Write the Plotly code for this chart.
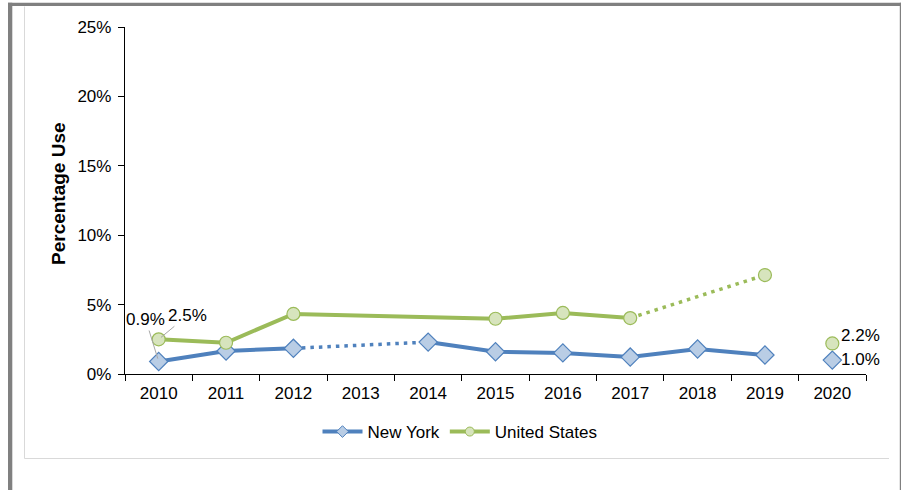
import plotly.graph_objects as go

years = ["2010", "2011", "2012", "2013", "2014", "2015", "2016", "2017", "2018", "2019", "2020"]
ny = [0.9, 1.66, 1.85, None, 2.3, 1.6, 1.52, 1.22, 1.8, 1.37, 1.0]
us = [2.5, 2.25, 4.33, None, None, 3.98, 4.4, 4.03, None, 7.13, 2.2]
y_ticks = [0, 5, 10, 15, 20, 25]
y_title = "Percentage Use"

# which year-pairs are drawn as dotted (estimated) links
ny_dotted = ("2012", "2014")
us_dotted = ("2017", "2019")
last_connected = "2019"

NY_LINE = "#4F81BD"
NY_FILL = "#B9CDE5"
US_LINE = "#9BBB59"
US_FILL = "#D7E4BD"
FONT = "Liberation Sans, Arial, sans-serif"
FS = 17

W, H = 902, 490
L, R, T, B = 125, 866, 27, 374


def xp(px):
    return (px - L) / (R - L)


def yp(py):
    return (B - py) / (B - T)


def val(series, yr):
    return series[years.index(yr)]


fig = go.Figure()

idx_last = years.index(last_connected) + 1

# solid lines
fig.add_trace(go.Scatter(x=years[:idx_last], y=ny[:idx_last], mode="lines",
                         line=dict(color=NY_LINE, width=4), connectgaps=False,
                         showlegend=False, hoverinfo="skip"))
us_solid_end = years.index(us_dotted[0]) + 1
fig.add_trace(go.Scatter(x=years[:us_solid_end], y=us[:us_solid_end], mode="lines",
                         line=dict(color=US_LINE, width=4), connectgaps=True,
                         showlegend=False, hoverinfo="skip"))
# dotted links
fig.add_trace(go.Scatter(x=list(ny_dotted), y=[val(ny, y) for y in ny_dotted], mode="lines",
                         line=dict(color=NY_LINE, width=3.5, dash="3.5px,5px"),
                         showlegend=False, hoverinfo="skip"))
fig.add_trace(go.Scatter(x=list(us_dotted), y=[val(us, y) for y in us_dotted], mode="lines",
                         line=dict(color=US_LINE, width=3.5, dash="3.5px,5px"),
                         showlegend=False, hoverinfo="skip"))
# markers
fig.add_trace(go.Scatter(x=years, y=ny, mode="markers",
                         marker=dict(symbol="diamond", size=14, color=NY_FILL,
                                     line=dict(color=NY_LINE, width=1.2)),
                         showlegend=False))
fig.add_trace(go.Scatter(x=years, y=us, mode="markers",
                         marker=dict(symbol="circle", size=13, color=US_FILL,
                                     line=dict(color=US_LINE, width=1.2)),
                         showlegend=False))
# legend entries
fig.add_trace(go.Scatter(x=[None], y=[None], mode="lines+markers", name="New York",
                         line=dict(color=NY_LINE, width=4),
                         marker=dict(symbol="diamond", size=9, color=NY_FILL,
                                     line=dict(color=NY_LINE, width=1))))
fig.add_trace(go.Scatter(x=[None], y=[None], mode="lines+markers", name="United States",
                         line=dict(color=US_LINE, width=4),
                         marker=dict(symbol="circle", size=9, color=US_FILL,
                                     line=dict(color=US_LINE, width=1))))

i_first = 0
i_last = len(years) - 1
annotations = [
    dict(x=i_first, y=ny[i_first], text=f"{ny[i_first]:.1f}%", showarrow=True, arrowhead=0,
         arrowcolor="#a6a6a6", arrowwidth=1, ax=-13, ay=-42, standoff=3,
         font=dict(size=FS, color="#000000", family=FONT)),
    dict(x=i_first, y=us[i_first], text=f"{us[i_first]:.1f}%", showarrow=True, arrowhead=0,
         arrowcolor="#a6a6a6", arrowwidth=1, ax=29, ay=-24, standoff=3,
         font=dict(size=FS, color="#000000", family=FONT)),
    dict(x=i_last, y=us[i_last], text=f"{us[i_last]:.1f}%", showarrow=False, xanchor="left",
         xshift=7, yshift=8, font=dict(size=FS, color="#000000", family=FONT)),
    dict(x=i_last, y=ny[i_last], text=f"{ny[i_last]:.1f}%", showarrow=False, xanchor="left",
         xshift=7, yshift=1, font=dict(size=FS, color="#000000", family=FONT)),
    # y-axis title
    dict(xref="paper", yref="paper", x=xp(58), y=yp(194), text=f"<b>{y_title}</b>",
         textangle=-90, showarrow=False, xanchor="center", yanchor="middle",
         font=dict(size=19, color="#000000", family=FONT)),
]

shapes = [
    # outer dark gray frame
    dict(type="rect", xref="paper", yref="paper", x0=xp(8), x1=xp(901), y0=yp(6), y1=yp(2.7),
         fillcolor="#808080", line=dict(width=0), layer="below"),
    dict(type="rect", xref="paper", yref="paper", x0=xp(8), x1=xp(12.3), y0=yp(490), y1=yp(2.7),
         fillcolor="#808080", line=dict(width=0), layer="below"),
    dict(type="rect", xref="paper", yref="paper", x0=xp(899.8), x1=xp(901), y0=yp(490), y1=yp(2.7),
         fillcolor="#808080", line=dict(width=0), layer="below"),
    # inner light gray frame
    dict(type="line", xref="paper", yref="paper", x0=xp(24.5), x1=xp(24.5), y0=yp(458.5), y1=yp(6.5),
         line=dict(color="#d9d9d9", width=1), layer="below"),
    dict(type="line", xref="paper", yref="paper", x0=xp(24.5), x1=xp(889), y0=yp(458.5), y1=yp(458.5),
         line=dict(color="#d9d9d9", width=1), layer="below"),
]

fig.update_layout(
    width=W, height=H,
    margin=dict(l=L, r=W - R, t=T, b=H - B),
    paper_bgcolor="white", plot_bgcolor="white",
    font=dict(family=FONT, size=FS, color="#000000"),
    showlegend=True,
    legend=dict(orientation="h", x=xp(460), y=yp(432), xanchor="center", yanchor="middle",
                font=dict(size=FS, family=FONT), itemwidth=40, bgcolor="rgba(0,0,0,0)"),
    xaxis=dict(type="category", categoryorder="array", categoryarray=years,
               range=[-0.5, len(years) - 0.5], showline=True, linecolor="#000000", linewidth=1.3,
               ticks="outside", tickson="boundaries", ticklen=6, tickcolor="#000000", tickwidth=1.3,
               ticklabelstandoff=3,
               showgrid=False, zeroline=False, tickfont=dict(size=FS, family=FONT)),
    yaxis=dict(range=[0, 25], tickvals=y_ticks, ticktext=[f"{v}%" for v in y_ticks],
               showline=True, linecolor="#000000", linewidth=1.3, ticks="outside", ticklen=6,
               tickcolor="#000000", tickwidth=1.3, showgrid=False, zeroline=False,
               ticklabelstandoff=3,
               tickfont=dict(size=FS, family=FONT)),
    annotations=annotations,
    shapes=shapes,
)

fig.write_html("out.html", post_script="document.body.style.margin='0';",
               config={"displayModeBar": False})
